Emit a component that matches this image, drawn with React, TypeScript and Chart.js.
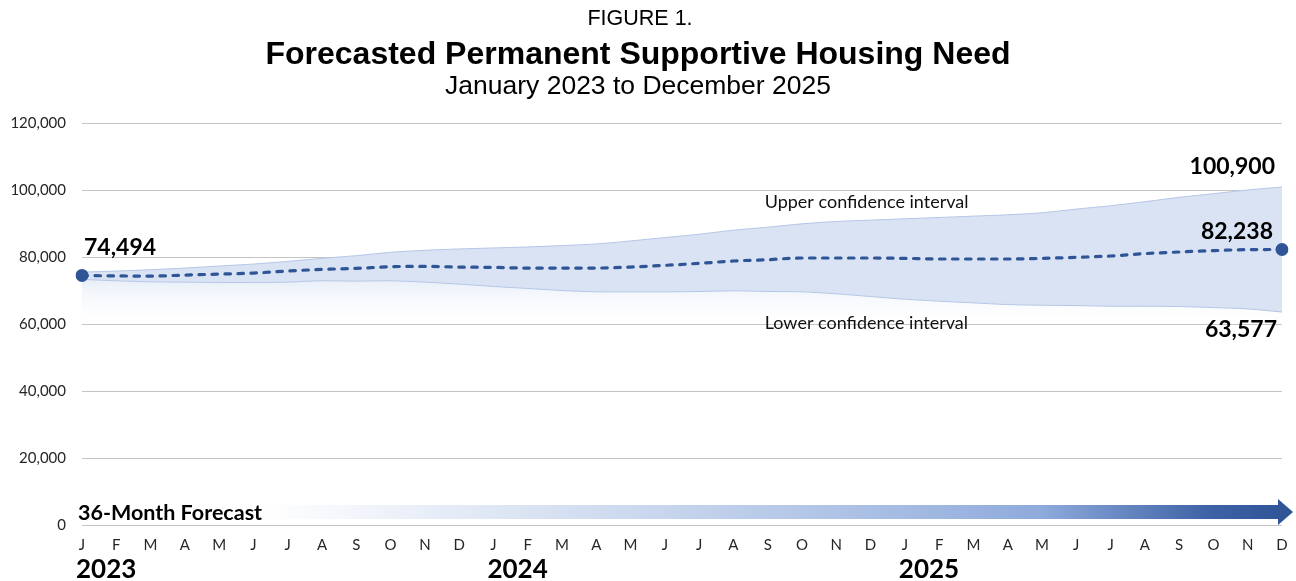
import React, { useEffect, useRef } from "react";
import { Chart, registerables } from "chart.js";

Chart.register(...registerables);

const monthLabels = [
  "J", "F", "M", "A", "M", "J", "J", "A", "S", "O", "N", "D",
  "J", "F", "M", "A", "M", "J", "J", "A", "S", "O", "N", "D",
  "J", "F", "M", "A", "M", "J", "J", "A", "S", "O", "N", "D",
];
const yearLabels = ["2023", "2024", "2025"];

const forecast = [
  74494, 74350, 74300, 74600, 74900, 75200, 75800, 76300, 76600, 77100, 77200, 77000,
  76900, 76700, 76700, 76700, 77000, 77500, 78100, 78800, 79200, 79700, 79700, 79700,
  79600, 79400, 79400, 79400, 79600, 79900, 80300, 81000, 81500, 81900, 82200, 82238,
];
const upper = [
  75500, 75800, 76200, 76700, 77300, 77900, 78700, 79600, 80400, 81400, 82000, 82400,
  82700, 83000, 83400, 83900, 84800, 85800, 86800, 88000, 88900, 89900, 90600, 91000,
  91400, 91800, 92200, 92600, 93200, 94300, 95300, 96500, 97800, 98900, 100000, 100900,
];
const lower = [
  73300, 72900, 72600, 72500, 72400, 72400, 72500, 72900, 72800, 72900, 72500, 71900,
  71200, 70600, 70000, 69600, 69600, 69600, 69700, 69900, 69700, 69600, 69000, 68200,
  67400, 66800, 66300, 65800, 65600, 65500, 65300, 65300, 65200, 64900, 64500, 63577,
];

const figureLabel = "FIGURE 1.";
const titleText = "Forecasted Permanent Supportive Housing Need";
const subtitleText = "January 2023 to December 2025";
const upperLabel = "Upper confidence interval";
const lowerLabel = "Lower confidence interval";
const arrowLabel = "36-Month Forecast";

const DARK = "#2F5597";
const BAND = "#DAE3F3";
const BAND_EDGE = "#B4C7E7";
const SANS = '"Liberation Sans", Arial, sans-serif';
const BODY = 'Lato, "Open Sans", sans-serif';

const fmt = (v: number) => v.toLocaleString("en-US");

const overlayPlugin = {
  id: "overlay",
  afterDraw(chart: any) {
    const { ctx, chartArea } = chart;
    const x = chart.scales.x;
    const y = chart.scales.y;
    ctx.save();

    // Titles
    ctx.fillStyle = "#000";
    ctx.textAlign = "center";
    ctx.textBaseline = "middle";
    ctx.font = `21.5px ${SANS}`;
    ctx.fillText(figureLabel, 640, 19);
    ctx.font = `bold 32px ${SANS}`;
    ctx.fillText(titleText, 638, 55);
    ctx.font = `26.5px ${SANS}`;
    ctx.fillText(subtitleText, 638, 87);

    // Arrow
    const yc = y.getPixelForValue(0) - 13;
    const x0 = chartArea.left;
    const xEnd = chartArea.right;
    const grad = ctx.createLinearGradient(x0, 0, xEnd, 0);
    grad.addColorStop(0, "#FFFFFF");
    grad.addColorStop(0.15, "#FFFFFF");
    grad.addColorStop(0.6, "#B4C7E7");
    grad.addColorStop(0.8, "#8FAADC");
    grad.addColorStop(0.94, "#3D62A5");
    grad.addColorStop(1, DARK);
    ctx.fillStyle = grad;
    ctx.beginPath();
    ctx.moveTo(x0, yc - 7);
    ctx.lineTo(xEnd - 4, yc - 7);
    ctx.lineTo(xEnd - 4, yc - 13);
    ctx.lineTo(xEnd + 11, yc);
    ctx.lineTo(xEnd - 4, yc + 13);
    ctx.lineTo(xEnd - 4, yc + 7);
    ctx.lineTo(x0, yc + 7);
    ctx.closePath();
    ctx.fill();

    ctx.fillStyle = "#000";
    ctx.textAlign = "left";
    ctx.font = `bold 21.5px ${BODY}`;
    ctx.fillText(arrowLabel, x0 - 4, yc + 1);

    // Year labels
    ctx.font = `bold 26px ${BODY}`;
    yearLabels.forEach((yr, i) => {
      ctx.fillText(yr, x.getPixelForValue(i * 12) - 6, 570);
    });

    // Confidence labels
    ctx.font = `18px ${BODY}`;
    ctx.fillStyle = "#111";
    const lx = x.getPixelForValue(20) - 3;
    ctx.fillText(upperLabel, lx, y.getPixelForValue(96400));
    ctx.fillText(lowerLabel, lx, y.getPixelForValue(60300));

    // Value labels
    ctx.fillStyle = "#000";
    ctx.font = `bold 23px ${BODY}`;
    const n = forecast.length - 1;
    ctx.textAlign = "left";
    ctx.fillText(fmt(forecast[0]), x.getPixelForValue(0) + 2, y.getPixelForValue(forecast[0]) - 28);
    ctx.textAlign = "right";
    ctx.fillText(fmt(forecast[n]), x.getPixelForValue(n) - 9, y.getPixelForValue(forecast[n]) - 18);
    ctx.fillText(fmt(upper[n]), x.getPixelForValue(n) - 7, y.getPixelForValue(upper[n]) - 20);
    ctx.fillText(fmt(lower[n]), x.getPixelForValue(n) - 5, y.getPixelForValue(lower[n]) + 18);

    ctx.restore();
  },
};

export default function App() {
  const ref = useRef<HTMLCanvasElement | null>(null);

  useEffect(() => {
    if (!ref.current) return;
    const chart = new Chart(ref.current, {
      type: "line",
      data: {
        labels: monthLabels,
        datasets: [
          {
            label: "Upper",
            data: upper,
            borderColor: BAND_EDGE,
            borderWidth: 1,
            backgroundColor: BAND,
            fill: "+1",
            pointRadius: 0,
            tension: 0.3,
            order: 3,
          },
          {
            label: "Lower",
            data: lower,
            borderColor: BAND_EDGE,
            borderWidth: 1,
            fill: { value: 58000 },
            backgroundColor: (c: any) => {
              const { chart: ch } = c;
              const area = ch.chartArea;
              if (!area) return "rgba(222,230,244,0.4)";
              const ys = ch.scales.y;
              const g = ch.ctx.createLinearGradient(0, ys.getPixelForValue(75000), 0, ys.getPixelForValue(59000));
              g.addColorStop(0, "rgba(214,224,242,0.7)");
              g.addColorStop(1, "rgba(255,255,255,0)");
              return g;
            },
            pointRadius: 0,
            tension: 0.3,
            order: 2,
          },
          {
            label: "Forecast",
            data: forecast,
            borderColor: DARK,
            borderWidth: 3.2,
            borderDash: [5.5, 7.5],
            borderCapStyle: "round",
            fill: false,
            tension: 0.4,
            cubicInterpolationMode: "monotone",
            pointRadius: (c: any) => (c.dataIndex === 0 || c.dataIndex === forecast.length - 1 ? 6.5 : 0),
            pointBackgroundColor: DARK,
            pointBorderColor: DARK,
            pointBorderWidth: 0,
            order: 1,
          },
        ],
      },
      options: {
        responsive: false,
        animation: false,
        events: [],
        layout: { padding: { left: 0, right: 14, top: 123, bottom: 0 } },
        plugins: {
          legend: { display: false },
          tooltip: { enabled: false },
          title: { display: false },
        },
        scales: {
          x: {
            offset: false,
            grid: { display: false, drawTicks: false },
            border: { display: false },
            ticks: {
              autoSkip: false,
              maxRotation: 0,
              padding: 11,
              color: "#262626",
              font: { family: BODY, size: 15 },
            },
            afterFit: (s: any) => {
              s.height = 56;
              s.paddingLeft = 0;
              s.paddingRight = 0;
            },
          },
          y: {
            min: 0,
            max: 120000,
            grid: { color: "#C4C4C4", lineWidth: 1, drawTicks: false },
            border: { display: false },
            ticks: {
              stepSize: 20000,
              padding: 16,
              color: "#262626",
              font: { family: BODY, size: 15 },
              callback: (v: any) => fmt(Number(v)),
            },
            afterFit: (s: any) => {
              s.width = 82;
              s.paddingTop = 0;
              s.paddingBottom = 0;
            },
          },
        },
      },
      plugins: [overlayPlugin],
    });
    return () => chart.destroy();
  }, []);

  return (
    <div style={{ position: "fixed", left: 0, top: 0, width: 1296, height: 581, background: "#fff" }}>
      <canvas ref={ref} width={1296} height={581} style={{ width: 1296, height: 581, display: "block" }} />
    </div>
  );
}
